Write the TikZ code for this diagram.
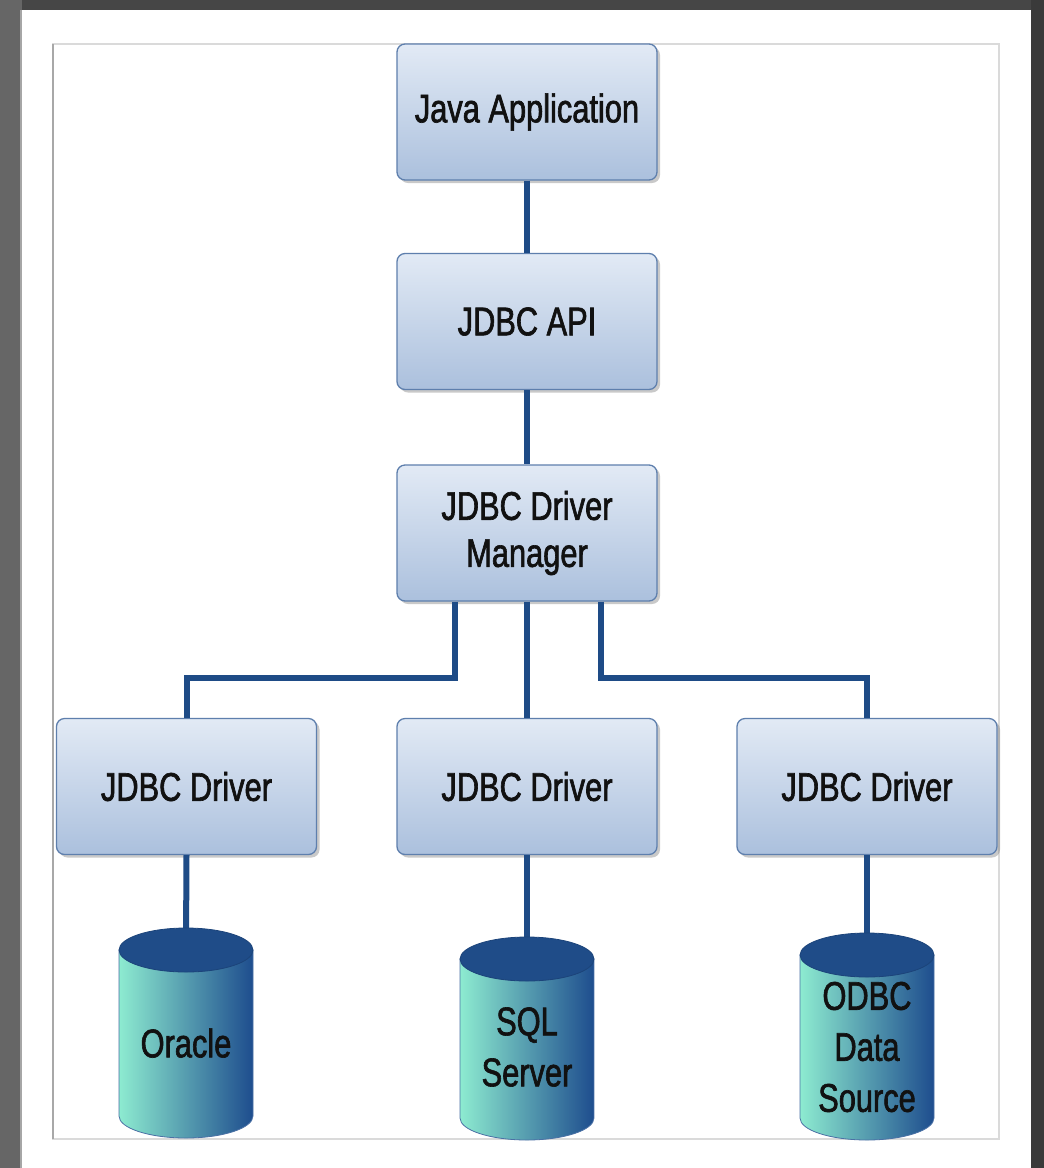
\documentclass[tikz,border=0pt]{standalone}
\usepackage{fontspec}
\setmainfont{Liberation Sans}
\newfontfamily\lbl[FakeStretch=0.77,FakeBold=1.6]{Liberation Sans}
\usetikzlibrary{shadows}
\definecolor{bgdark}{HTML}{464646}
\definecolor{bgleft}{HTML}{666666}
\definecolor{bgright}{HTML}{3A3A3A}
\definecolor{framegray}{HTML}{DADADA}
\definecolor{frameleft}{HTML}{A8A8A8}
\definecolor{boxtop}{HTML}{E2EAF5}
\definecolor{boxbot}{HTML}{ABC0DD}
\definecolor{boxborder}{HTML}{5E7FAD}
\definecolor{connblue}{HTML}{1E4B86}
\definecolor{cylL}{HTML}{8DEBD0}
\definecolor{cylR}{HTML}{1E4D8E}
\definecolor{cyltop}{HTML}{1F4C88}
\definecolor{txt}{HTML}{111111}
\tikzset{
  box/.style={rectangle, rounded corners=8pt, draw=boxborder, line width=1.3pt,
    top color=boxtop, bottom color=boxbot, minimum width=260pt, minimum height=136pt,
    align=center, text=txt, font=\lbl\fontsize{40}{47}\selectfont,
    drop shadow={shadow xshift=3pt, shadow yshift=-3pt, opacity=0.35, fill=black!60}},
  conn/.style={draw=connblue, line width=6pt, line join=miter},
  dbtext/.style={align=center, text=txt, font=\lbl\fontsize{40}{51}\selectfont},
  cylbody/.style={left color=cylL, right color=cylR, draw=cylR!80, line width=0.8pt},
  cyltopf/.style={fill=cyltop, draw=cyltop!90!black, line width=0.8pt}
}
\newcommand{\dbcylinder}[3]{%
  \path[cylbody] (#1-67,#2) -- (#1-67,#3) arc[start angle=180, end angle=360, x radius=67pt, y radius=22pt] -- (#1+67,#2) -- cycle;
  \path[cyltopf] (#1,#2) ellipse [x radius=67pt, y radius=22pt];
}
\begin{document}
\begin{tikzpicture}[x=1pt,y=-1pt]
\useasboundingbox (0,0) rectangle (1044,1168);
% background
\fill[bgdark] (0,0) rectangle (1044,1168);
\fill[bgleft] (0,0) rectangle (22,1168);
\fill[bgright] (1031,0) rectangle (1044,1168);
\fill[black!35] (20,10) rectangle (23,1168);
\fill[white] (22,10) rectangle (1031,1168);
% inner frame
\draw[framegray, line width=1.2pt] (53,44) rectangle (999,1139);
\draw[frameleft, line width=2pt] (53,44) -- (53,1139);

% boxes
\node[box] (app) at (527,112) {Java Application};
\node[box] (api) at (527,321.5) {JDBC API};
\node[box] (mgr) at (527,533) {JDBC Driver\\Manager};
\node[box] (d1) at (186.5,786.5) {JDBC Driver};
\node[box] (d2) at (527,786.5) {JDBC Driver};
\node[box] (d3) at (867,786.5) {JDBC Driver};

% connectors
\draw[conn] (app) -- (api);
\draw[conn] (api) -- (mgr);
\draw[conn] (mgr) -- (d2);
\draw[conn] ([xshift=-72pt]mgr.south) -- ++(0,76) -| (d1.north);
\draw[conn] ([xshift=74pt]mgr.south) -- ++(0,76) -| (d3.north);

% database cylinders
\coordinate (oratop) at (186,945);
\coordinate (sqltop) at (527,950);
\coordinate (odbctop) at (867,950);
\draw[conn] (d1.south) -- (oratop);
\draw[conn] (d2.south) -- (sqltop);
\draw[conn] (d3.south) -- (odbctop);

\dbcylinder{186}{950}{1116}
\dbcylinder{527}{959}{1118}
\dbcylinder{867}{955}{1118}

\node[dbtext] (oracle) at (186,1043) {Oracle};
\node[dbtext] (sql) at (527,1047) {SQL\\Server};
\node[dbtext] (odbc) at (867,1047) {ODBC\\Data\\Source};
\end{tikzpicture}
\end{document}
